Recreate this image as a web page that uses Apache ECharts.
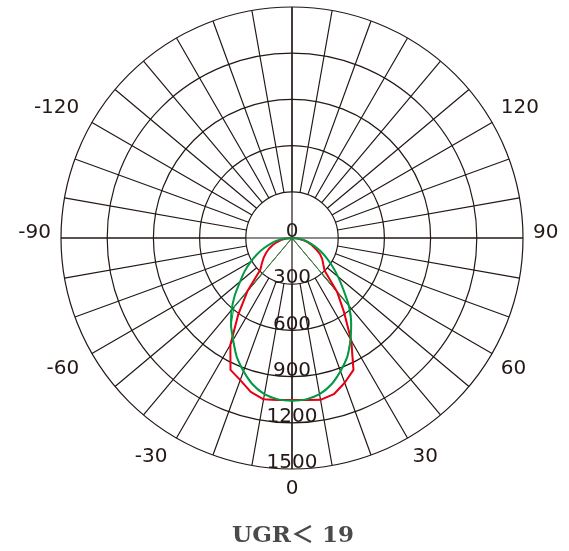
<!DOCTYPE html>
<html>
<head>
<meta charset="utf-8">
<script src="https://cdn.jsdelivr.net/npm/echarts@6/dist/echarts.min.js"></script>
<style>
  html, body { margin: 0; padding: 0; background: #ffffff; }
  #chart { width: 569px; height: 551px; }
</style>
</head>
<body>
<div id="chart"></div>
<script>
// Gamma angles (degrees from nadir, positive to the right)
const gammaAngles = [-90, -85, -80, -75, -70, -65, -60, -55, -50, -45, -40, -35, -30, -25, -20, -15, -10, -5, 0,
                     5, 10, 15, 20, 25, 30, 35, 40, 45, 50, 55, 60, 65, 70, 75, 80, 85, 90];

// Luminous intensity, cd (red plane)
const redMain = [0, 35, 70, 100, 133, 165, 195, 225, 255, 291, 450, 610, 800, 945, 982, 1035, 1064, 1056, 1052,
                 1056, 1067, 1050, 1000, 945, 770, 590, 455, 300, 265, 240, 210, 172, 138, 105, 72, 36, 0];

// Luminous intensity, cd (green plane)
const greenMain = [0, 45, 100, 145, 195, 250, 310, 375, 440, 525, 610, 690, 765, 850, 920, 985, 1030, 1052, 1057,
                   1052, 1030, 985, 920, 850, 760, 670, 575, 470, 390, 320, 260, 205, 155, 112, 75, 38, 0];

// Opposite half-planes, measured only inside the beam
const halfAngles = [-45, -40, -35, -30, -25, -20, -15, -10, -5, 0, 5, 10, 15, 20, 25, 30, 35, 40, 45];
const redHalf = [0, 450, 610, 800, 945, 982, 1035, 1064, 1056, 1052, 1056, 1067, 1050, 1000, 945, 770, 590, 455, 0];
const greenHalf = [0, 585, 690, 765, 850, 920, 985, 1030, 1052, 1057, 1052, 1030, 985, 920, 850, 760, 670, 575, 0];

// Axis settings
const radiusMax = 1500;
const radiusStep = 300;
const angleLabelsShown = [0, 30, 60, 90, 120, -120, -90, -60, -30];
const titleText = 'UGR\uFF1C 19';

const INK = '#231815';
const CENTER = [292, 238];
const R_OUT = 231;
const R_IN = 46.2;
const GRID_W = 1.2;
const LABEL_FONT = '"DejaVu Sans", "Liberation Sans", sans-serif';

// gamma -> angle axis value (0..360, 0 at nadir)
const toAxisAngle = a => (a < 0 ? a + 360 : a);
const toPolarData = (angles, values) => values.map((v, i) => [v, toAxisAngle(angles[i])]);

const chart = echarts.init(document.getElementById('chart'), null, { renderer: 'canvas' });

const baseAngleAxis = {
  type: 'value', min: 0, max: 360, startAngle: 270, clockwise: false,
  axisLine: { show: false }, axisTick: { show: false }, axisLabel: { show: false }
};

const option = {
  backgroundColor: '#ffffff',
  animation: false,
  title: {
    text: titleText,
    left: 288,
    textAlign: 'center',
    top: 520,
    textStyle: {
      fontFamily: '"DejaVu Serif", "Noto Sans CJK SC", serif',
      fontWeight: 'bold',
      fontSize: 23,
      color: '#4a4a4a'
    }
  },
  polar: [
    { center: CENTER, radius: [0, R_OUT] },
    { center: CENTER, radius: [R_IN, R_OUT] },
    { center: CENTER, radius: [0, R_OUT] }
  ],
  angleAxis: [
    // cross lines through the centre
    Object.assign({}, baseAngleAxis, {
      polarIndex: 0, interval: 90,
      splitLine: { show: true, lineStyle: { color: INK, width: GRID_W } }
    }),
    // 10-degree spokes starting at the first ring
    Object.assign({}, baseAngleAxis, {
      polarIndex: 1, interval: 10,
      splitLine: { show: true, lineStyle: { color: INK, width: GRID_W } }
    }),
    // angle labels every 30 degrees
    Object.assign({}, baseAngleAxis, {
      polarIndex: 2, interval: 30,
      splitLine: { show: false },
      axisLabel: {
        show: true,
        margin: 10,
        fontFamily: LABEL_FONT,
        fontSize: 20,
        color: INK,
        formatter: function (v) {
          if (v >= 360) return '';
          const g = v > 180 ? v - 360 : v;
          if (angleLabelsShown.indexOf(g) < 0) return '';
          if (Math.abs(g) === 90) return '{h|' + g + '}';
          if (g < 0) return '{n|' + g + '}';
          return String(g);
        },
        rich: {
          h: { fontFamily: LABEL_FONT, fontSize: 20, color: INK, padding: [0, 0, 11, 0] },
          n: { fontFamily: LABEL_FONT, fontSize: 20, color: INK, padding: [0, 4, 0, 0] }
        }
      }
    })
  ],
  radiusAxis: [
    {
      polarIndex: 0, type: 'value', min: 0, max: radiusMax, interval: radiusStep,
      axisLine: { show: false }, axisTick: { show: false },
      splitLine: { show: true, lineStyle: { color: INK, width: GRID_W } },
      axisLabel: {
        show: true, margin: 0, rotate: 0,
        align: 'center', verticalAlign: 'bottom',
        lineHeight: 12,
        fontFamily: LABEL_FONT, fontSize: 20, color: INK,
        formatter: v => String(v)
      }
    },
    { polarIndex: 1, type: 'value', min: 0, max: radiusMax, show: false },
    { polarIndex: 2, type: 'value', min: 0, max: radiusMax, show: false }
  ],
  series: [
    {
      type: 'line', coordinateSystem: 'polar', polarIndex: 0,
      data: toPolarData(halfAngles, redHalf),
      showSymbol: false, lineStyle: { color: '#e60012', width: 1 }, z: 3
    },
    {
      type: 'line', coordinateSystem: 'polar', polarIndex: 0,
      data: toPolarData(halfAngles, greenHalf),
      showSymbol: false, lineStyle: { color: '#009944', width: 1 }, z: 3
    },
    {
      type: 'line', coordinateSystem: 'polar', polarIndex: 0,
      data: toPolarData(gammaAngles, redMain),
      showSymbol: false, lineStyle: { color: '#e60012', width: 2 }, z: 4
    },
    {
      type: 'line', coordinateSystem: 'polar', polarIndex: 0,
      data: toPolarData(gammaAngles, greenMain),
      showSymbol: false, smooth: 0.2, lineStyle: { color: '#009944', width: 2 }, z: 5
    }
  ]
};

chart.setOption(option);
</script>
</body>
</html>
